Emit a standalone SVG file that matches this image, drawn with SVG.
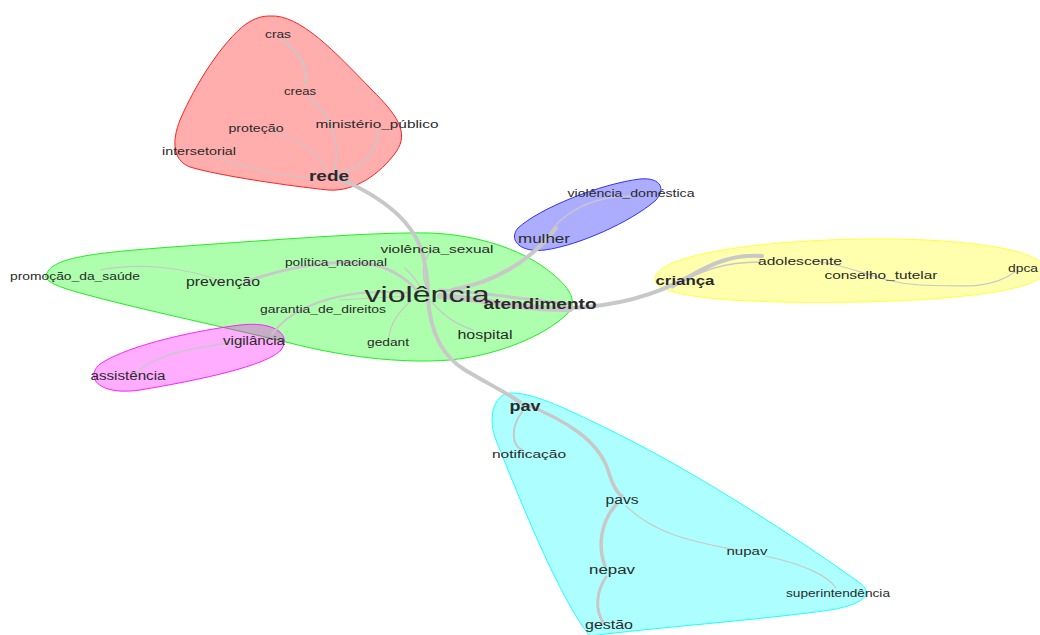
<svg xmlns="http://www.w3.org/2000/svg" width="1040" height="635" viewBox="0 0 1040 635">
<style>
.hull{stroke-width:1;fill-opacity:0.32}
.e{fill:none;stroke:#c8c8c8;stroke-linecap:round}
.t{font-family:"Liberation Sans",Arial,sans-serif;fill:#2a2a2a;text-anchor:middle;dominant-baseline:central}
.s{font-size:11px}
.m{font-size:12.5px}
.b{font-size:14px;font-weight:bold}
</style>
<rect width="1040" height="635" fill="#fff"/>
<g id="hulls">
<path id="hull-red" class="hull" fill="#ff0000" stroke="#ff2020" d="M270,16 C300,14 335,52 372,90 C396,114 410,132 396,152 C380,174 355,192 328,190 C290,186 220,176 190,167 C172,160 172,140 180,120 C195,85 222,42 246,24 C255,18 262,16 270,16 Z"/>
<path id="hull-blue" class="hull" fill="#0000ff" stroke="#3030ff" d="M518,228 C540,208 600,184 640,179 C662,177 666,190 655,201 C630,222 580,245 545,250 C520,253 508,240 518,228 Z"/>
<path id="hull-yellow" class="hull" fill="#ffff00" stroke="#ffff40" d="M655,278 C658,255 760,239 880,239 C980,239 1045,252 1045,270 C1045,290 960,300 860,302 C740,304 652,298 655,278 Z"/>
<path id="hull-green" class="hull" fill="#00ff00" stroke="#20ee20" d="M47,273 C55,256 100,252 200,245 C300,238 380,232 430,233 C480,235 520,250 545,268 C565,283 582,300 566,315 C545,335 500,355 450,360 C400,364 340,356 290,343 C220,326 120,305 70,290 C50,284 42,278 47,273 Z"/>
<path id="hull-magenta" class="hull" fill="#ff00ff" stroke="#ff20ff" d="M100,364 C130,344 200,330 240,325 C275,321 292,335 281,350 C266,366 200,380 140,390 C100,396 84,378 100,364 Z"/>
<path id="hull-cyan" class="hull" fill="#00ffff" stroke="#20ffff" d="M510,393 C530,392 560,405 620,435 C700,475 800,540 860,583 C876,595 860,605 830,610 C760,620 650,628 590,636 C560,600 520,500 496,440 C488,420 492,395 510,393 Z"/>
</g>
<g id="connectors">
<path class="e" stroke-width="2" d="M280,38 C298,52 310,64 305,85"/>
<path class="e" stroke-width="1.5" d="M308,97 C330,115 342,140 334,172"/>
<path class="e" stroke-width="1.5" d="M378,129 C378,160 355,170 336,174"/>
<path class="e" stroke-width="1.2" d="M272,132 C300,138 320,155 328,172"/>
<path class="e" stroke-width="1.2" d="M215,156 C250,170 290,178 318,178"/>
<path class="e" stroke-width="4" d="M338,178 C390,200 418,228 424,260 C427,275 428,285 428,292"/>
<path class="e" stroke-width="1.5" d="M545,244 C555,215 590,196 632,196"/>
<path class="e" stroke-width="4" d="M452,290 C495,282 530,262 556,228"/>
<path class="e" stroke-width="6" d="M440,296 C480,298 520,310 570,309"/>
<path class="e" stroke-width="3" d="M440,290 C480,292 530,300 570,304"/>
<path class="e" stroke-width="4" d="M570,308 C620,306 660,293 690,276 C715,262 735,254 762,256"/>
<path class="e" stroke-width="1.5" d="M672,288 C700,270 725,262 760,262"/>
<path class="e" stroke-width="1.2" d="M820,262 C860,268 885,284 920,285 C960,286 990,290 1015,272"/>
<path class="e" stroke-width="1.2" d="M100,270 C140,262 190,268 222,282"/>
<path class="e" stroke-width="3" d="M245,282 C290,266 340,258 375,265 C395,270 410,282 418,292"/>
<path class="e" stroke-width="1.2" d="M405,268 C412,275 418,282 422,290"/>
<path class="e" stroke-width="1.5" d="M426,286 C420,270 425,258 432,250"/>
<path class="e" stroke-width="2" d="M272,334 C290,310 320,298 360,293 C385,291 400,292 410,293"/>
<path class="e" stroke-width="1.2" d="M340,300 C370,298 390,297 410,296"/>
<path class="e" stroke-width="1.5" d="M135,375 C150,355 200,346 242,342"/>
<path class="e" stroke-width="1.2" d="M412,300 C398,312 390,325 389,337"/>
<path class="e" stroke-width="1.2" d="M432,302 C445,318 460,326 474,330"/>
<path class="e" stroke-width="4" d="M428,298 C430,330 440,355 465,370 C485,382 505,392 520,402"/>
<path class="e" stroke-width="2" d="M522,412 C510,428 512,445 522,450"/>
<path class="e" stroke-width="3.5" d="M525,404 C565,420 598,440 608,470 C614,490 620,495 622,496"/>
<path class="e" stroke-width="3.5" d="M616,505 C600,522 598,548 605,566"/>
<path class="e" stroke-width="3" d="M606,577 C596,592 595,610 603,622"/>
<path class="e" stroke-width="1.2" d="M626,506 C660,540 715,545 742,551"/>
<path class="e" stroke-width="1.2" d="M765,556 C808,565 830,578 836,588"/>
</g>
<g id="node-cras"><text class="t s" x="278" y="34" textLength="26" lengthAdjust="spacingAndGlyphs">cras</text></g>
<g id="node-creas"><text class="t s" x="300" y="91" textLength="32" lengthAdjust="spacingAndGlyphs">creas</text></g>
<g id="node-protecao"><text class="t s" x="256" y="128" textLength="55" lengthAdjust="spacingAndGlyphs">proteção</text></g>
<g id="node-ministerio_publico"><text class="t s" x="377" y="124" textLength="123" lengthAdjust="spacingAndGlyphs">ministério_público</text></g>
<g id="node-intersetorial"><text class="t s" x="199" y="151" textLength="74" lengthAdjust="spacingAndGlyphs">intersetorial</text></g>
<g id="node-rede"><text class="t b" x="329" y="176" textLength="40" lengthAdjust="spacingAndGlyphs">rede</text></g>
<g id="node-violencia_domestica"><text class="t s" x="631" y="193" textLength="127" lengthAdjust="spacingAndGlyphs">violência_doméstica</text></g>
<g id="node-mulher"><text class="t" style="font-size:13px" x="544" y="238" textLength="52" lengthAdjust="spacingAndGlyphs">mulher</text></g>
<g id="node-violencia_sexual"><text class="t s" x="437" y="249" textLength="113" lengthAdjust="spacingAndGlyphs">violência_sexual</text></g>
<g id="node-politica_nacional"><text class="t s" x="336" y="262" textLength="102" lengthAdjust="spacingAndGlyphs">política_nacional</text></g>
<g id="node-promocao_da_saude"><text class="t s" x="75" y="276" textLength="130" lengthAdjust="spacingAndGlyphs">promoção_da_saúde</text></g>
<g id="node-prevencao"><text class="t m" x="223" y="282" textLength="74" lengthAdjust="spacingAndGlyphs">prevenção</text></g>
<g id="node-violencia"><text class="t" style="font-size:22px" x="427" y="294" textLength="125" lengthAdjust="spacingAndGlyphs">violência</text></g>
<g id="node-atendimento"><text class="t" style="font-size:14px;font-weight:bold" x="540" y="304" textLength="113" lengthAdjust="spacingAndGlyphs">atendimento</text></g>
<g id="node-garantia_de_direitos"><text class="t s" x="323" y="309" textLength="126" lengthAdjust="spacingAndGlyphs">garantia_de_direitos</text></g>
<g id="node-gedant"><text class="t s" x="388" y="342" textLength="42" lengthAdjust="spacingAndGlyphs">gedant</text></g>
<g id="node-hospital"><text class="t m" x="485" y="335" textLength="55" lengthAdjust="spacingAndGlyphs">hospital</text></g>
<g id="node-vigilancia"><text class="t m" x="254" y="341" textLength="62" lengthAdjust="spacingAndGlyphs">vigilância</text></g>
<g id="node-assistencia"><text class="t m" x="128" y="376" textLength="75" lengthAdjust="spacingAndGlyphs">assistência</text></g>
<g id="node-crianca"><text class="t" style="font-size:13px;font-weight:bold" x="685" y="280" textLength="59" lengthAdjust="spacingAndGlyphs">criança</text></g>
<g id="node-adolescente"><text class="t s" x="800" y="261" textLength="84" lengthAdjust="spacingAndGlyphs">adolescente</text></g>
<g id="node-conselho_tutelar"><text class="t s" x="881" y="275" textLength="113" lengthAdjust="spacingAndGlyphs">conselho_tutelar</text></g>
<g id="node-dpca"><text class="t s" x="1023" y="268" textLength="30" lengthAdjust="spacingAndGlyphs">dpca</text></g>
<g id="node-pav"><text class="t b" x="525" y="406" textLength="31" lengthAdjust="spacingAndGlyphs">pav</text></g>
<g id="node-notificacao"><text class="t s" x="529" y="454" textLength="74" lengthAdjust="spacingAndGlyphs">notificação</text></g>
<g id="node-pavs"><text class="t m" x="622" y="500" textLength="33" lengthAdjust="spacingAndGlyphs">pavs</text></g>
<g id="node-nupav"><text class="t s" x="747" y="551" textLength="41" lengthAdjust="spacingAndGlyphs">nupav</text></g>
<g id="node-nepav"><text class="t m" x="612" y="570" textLength="46" lengthAdjust="spacingAndGlyphs">nepav</text></g>
<g id="node-superintendencia"><text class="t s" x="838" y="593" textLength="104" lengthAdjust="spacingAndGlyphs">superintendência</text></g>
<g id="node-gestao"><text class="t m" x="609" y="625" textLength="48" lengthAdjust="spacingAndGlyphs">gestão</text></g>
</svg>
